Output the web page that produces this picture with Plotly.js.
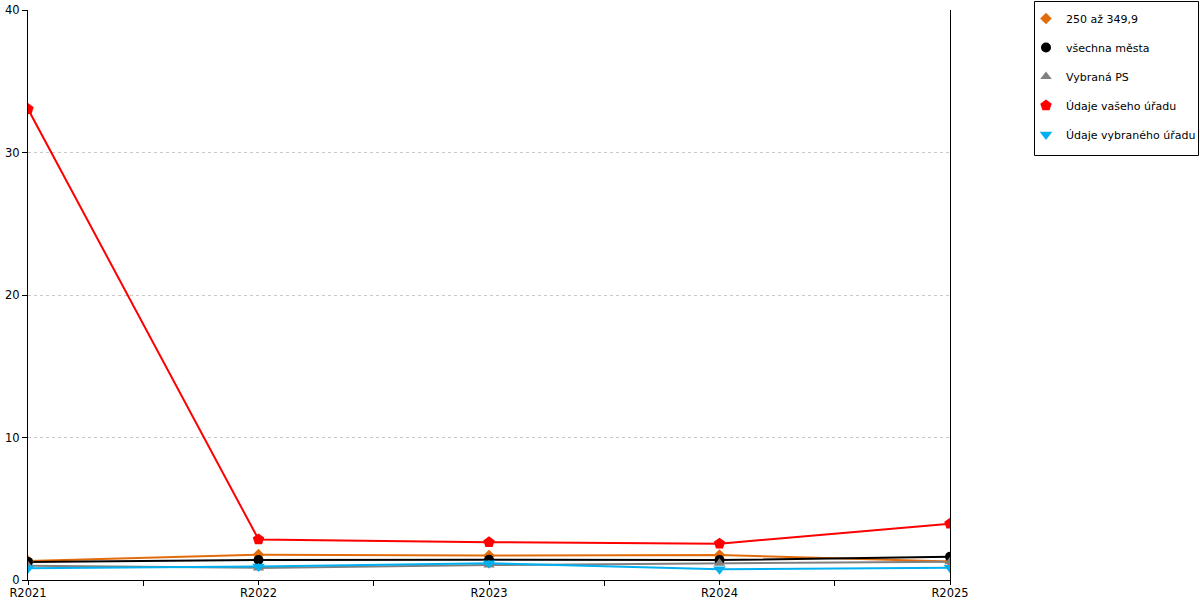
<!DOCTYPE html>
<html>
<head>
<meta charset="utf-8">
<script src="https://cdn.plot.ly/plotly-3.0.1.min.js"></script>
<style>html,body{margin:0;padding:0;background:#fff;}#chart{width:1200px;height:600px;}</style>
</head>
<body>
<div id="chart"></div>
<script>
const categories = ["R2021", "R2022", "R2023", "R2024", "R2025"];
const seriesNames = ["250 až 349,9", "všechna města", "Vybraná PS", "Údaje vašeho úřadu", "Údaje vybraného úřadu"];
const orangeValues = [1.33, 1.78, 1.72, 1.75, 1.30];
const blackValues = [1.27, 1.40, 1.42, 1.40, 1.63];
const grayValues = [1.00, 0.85, 1.05, 1.17, 1.28];
const redValues = [33.05, 2.85, 2.65, 2.55, 3.95];
const blueValues = [0.82, 0.95, 1.17, 0.75, 0.86];
const yTicks = [0, 10, 20, 30, 40];

const xs = categories.map((c, i) => i);
const styles = [
  {color: "#e36c0a", symbol: "diamond", size: 9},
  {color: "#000000", symbol: "circle", size: 10},
  {color: "#808080", symbol: "triangle-up", size: 10},
  {color: "#ff0000", symbol: "pentagon", size: 12},
  {color: "#00b0f0", symbol: "triangle-down", size: 11}
];
const allValues = [orangeValues, blackValues, grayValues, redValues, blueValues];

const traces = [];
allValues.forEach((vals, k) => {
  traces.push({
    type: "scatter",
    mode: "lines",
    x: xs,
    y: vals,
    name: seriesNames[k],
    showlegend: false,
    line: {color: styles[k].color, width: 2},
    hoverinfo: "skip"
  });
});
allValues.forEach((vals, k) => {
  traces.push({
    type: "scatter",
    mode: "markers",
    x: xs,
    y: vals,
    name: seriesNames[k],
    legendgroup: "g" + k,
    marker: {color: styles[k].color, symbol: styles[k].symbol, size: styles[k].size},
    hoverinfo: "skip"
  });
});

const L = 28, R = 950, T = 10, B = 580;
const px2x = p => (p - L) / (R - L);
const px2y = p => (B - p) / (B - T);

const layout = {
  width: 1200,
  height: 600,
  margin: {l: L, r: 1200 - R, t: T, b: 600 - B, autoexpand: false},
  paper_bgcolor: "#fff",
  plot_bgcolor: "#fff",
  font: {family: "DejaVu Sans, Verdana, sans-serif", size: 11.5, color: "#000"},
  showlegend: true,
  legend: {
    xref: "container", yref: "container",
    x: 1026 / 1200, xanchor: "left", y: 1 - 4 / 600, yanchor: "top",
    borderwidth: 0, bgcolor: "rgba(0,0,0,0)",
    font: {size: 11, color: "#000"},
    tracegroupgap: 10,
    itemwidth: 30,
    itemclick: false, itemdoubleclick: false
  },
  shapes: [{
    type: "rect", xref: "paper", yref: "paper",
    x0: px2x(1034.5), x1: px2x(1198.5), y0: px2y(155.5), y1: px2y(1.5),
    line: {color: "#000", width: 1}, fillcolor: "rgba(0,0,0,0)", layer: "above"
  }],
  xaxis: {
    type: "linear",
    range: [0, 4],
    tickvals: xs,
    ticktext: categories,
    ticks: "outside",
    ticklen: 4,
    tickcolor: "#000",
    showline: true,
    linecolor: "#000",
    linewidth: 1,
    showgrid: false,
    zeroline: false,
    ticklabelstandoff: -2,
    minor: {tickvals: [0.5, 1.5, 2.5, 3.5], ticks: "outside", ticklen: 5, tickcolor: "#000", showgrid: false},
    tickfont: {size: 11.5}
  },
  yaxis: {
    range: [0, 40],
    tickvals: yTicks,
    ticks: "outside",
    ticklen: 5,
    tickcolor: "#000",
    showline: true,
    mirror: true,
    linecolor: "#000",
    linewidth: 1,
    showgrid: true,
    gridcolor: "#c8c8c8",
    griddash: "dot",
    zeroline: false,
    tickfont: {size: 11.5}
  }
};

Plotly.newPlot("chart", traces, layout, {displayModeBar: false, staticPlot: true});
</script>
</body>
</html>
